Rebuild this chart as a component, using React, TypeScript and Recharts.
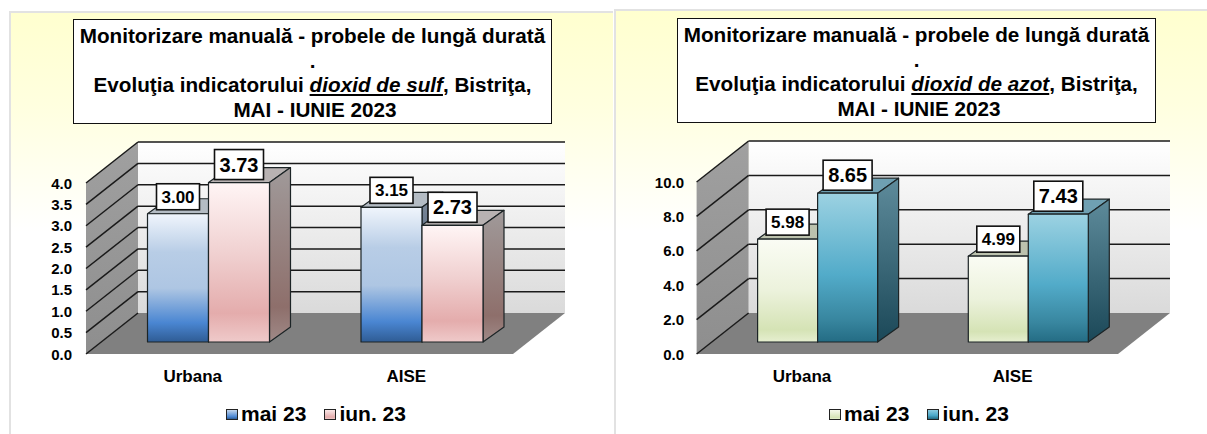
import React from 'react';
import { BarChart, Bar, XAxis, YAxis, CartesianGrid, Legend, LabelList } from 'recharts';

const categories = ['Urbana', 'AISE'];
const seriesNames = ['mai 23', 'iun. 23'];
const sulfMai = [3.0, 3.15];
const sulfIun = [3.73, 2.73];
const azotMai = [5.98, 4.99];
const azotIun = [8.65, 7.43];
const sulfTicks = [0, 0.5, 1, 1.5, 2, 2.5, 3, 3.5, 4];
const azotTicks = [0, 2, 4, 6, 8, 10];

const buildRows = (mai: number[], iun: number[]) =>
  categories.map((name, i) => ({ name, mai: mai[i], iun: iun[i] }));

const FONT = '"Liberation Sans", Arial, sans-serif';

type Stop = [string, string];
interface BarLook {
  front: Stop[];
  side: Stop[];
  top: string;
  swatch: string;
}

const sulfLooks: BarLook[] = [
  {
    front: [['0%', '#f0f5fc'], ['30%', '#b8cde6'], ['58%', '#aec6e3'], ['85%', '#4a86d2'], ['100%', '#2f5c94']],
    side: [['0%', '#7f8a99'], ['100%', '#2c4a70']],
    top: '#b4bcc4',
    swatch: 'linear-gradient(#c4d6ec, #4a86d2 75%, #2f5c94)',
  },
  {
    front: [['0%', '#fff5f5'], ['45%', '#f0d0d0'], ['82%', '#e4acac'], ['100%', '#efcaca']],
    side: [['0%', '#a09a9a'], ['80%', '#8e6f6b'], ['100%', '#a08a88']],
    top: '#b8b2b2',
    swatch: 'linear-gradient(#fbe8e8, #e4acac 80%, #efcaca)',
  },
];

const azotLooks: BarLook[] = [
  {
    front: [['0%', '#fafcf4'], ['50%', '#ecf2dc'], ['88%', '#d5e3b5'], ['100%', '#e6efd0']],
    side: [['0%', '#a8ae98'], ['100%', '#7e8868']],
    top: '#bcc2ae',
    swatch: 'linear-gradient(#f6f9ec, #d5e3b5 85%, #e6efd0)',
  },
  {
    front: [['0%', '#9cd2e2'], ['55%', '#52abc9'], ['85%', '#38869f'], ['100%', '#246c84']],
    side: [['0%', '#5e8b9b'], ['100%', '#1b4858']],
    top: '#6fa0b2',
    swatch: 'linear-gradient(#8ccbdf, #4ba8c8 60%, #246c84)',
  },
];

// one depth step from the bar plane out to the front edge, and back to the wall
const FRONT_X = 16;
const FRONT_Y = 12;
const BACK_X = 36;
const BACK_Y = 29;
const BAR_DX = 21;
const BAR_DY = 15;

const CHART_W = 600;
const CHART_H = 434;

const Bar3D = (props: any) => {
  const { x, y, width, height, look, id } = props;
  if (width == null || height == null) return null;
  const r = x + width;
  const b = y + height;
  return (
    <g stroke="#1c2426" strokeWidth={1.2} strokeLinejoin="round">
      <polygon points={`${x},${y} ${x + BAR_DX},${y - BAR_DY} ${r + BAR_DX},${y - BAR_DY} ${r},${y}`} fill={look.top} />
      <polygon
        points={`${r},${y} ${r + BAR_DX},${y - BAR_DY} ${r + BAR_DX},${b - BAR_DY} ${r},${b}`}
        fill={`url(#${id}-side)`}
      />
      <rect x={x} y={y} width={width} height={height} fill={`url(#${id}-front)`} />
    </g>
  );
};

const ValueBox = (props: any) => {
  const { x, y, width, value, boxW, boxH, gap, fontSize } = props;
  const cx = x + width / 2;
  const bottom = y - gap;
  return (
    <g>
      <rect x={cx - boxW / 2} y={bottom - boxH} width={boxW} height={boxH} fill="#fff" stroke="#111" strokeWidth={1.6} />
      <text
        x={cx}
        y={bottom - boxH / 2 + fontSize * 0.36}
        textAnchor="middle"
        fontFamily={FONT}
        fontWeight="bold"
        fontSize={fontSize}
        fill="#000"
      >
        {Number(value).toFixed(2)}
      </text>
    </g>
  );
};

// walls and floor sit behind the chart's own svg, the grid lines are drawn over them by CartesianGrid
const Room = ({ left, right, top, bottom, id }: any) => (
  <svg width={CHART_W} height={CHART_H} style={{ position: 'absolute', left: 0, top: 0 }}>
    <defs>
      <linearGradient id={`${id}-wall`} x1="0" y1="0" x2="0" y2="1">
        <stop offset="0%" stopColor="#ffffff" />
        <stop offset="100%" stopColor="#dadada" />
      </linearGradient>
      <linearGradient id={`${id}-sidewall`} x1="0" y1="0" x2="0" y2="1">
        <stop offset="0%" stopColor="#a0a0a0" />
        <stop offset="100%" stopColor="#8e8e8e" />
      </linearGradient>
    </defs>
    <rect x={left + BACK_X} y={top - BACK_Y} width={right - left} height={bottom - top} fill={`url(#${id}-wall)`} />
    <polygon
      points={`${left - FRONT_X},${top + FRONT_Y} ${left + BACK_X},${top - BACK_Y} ${left + BACK_X},${bottom - BACK_Y} ${left - FRONT_X},${bottom + FRONT_Y}`}
      fill={`url(#${id}-sidewall)`}
    />
    <polygon
      points={`${left - FRONT_X},${bottom + FRONT_Y} ${right - FRONT_X},${bottom + FRONT_Y} ${right + BACK_X},${bottom - BACK_Y} ${left + BACK_X},${bottom - BACK_Y}`}
      fill="#808080"
    />
  </svg>
);

const Panel = ({ left, top, panel, title, species, box, plot, rows, ticks, looks, maxValue, id, labelRight, legendLeft }: any) => {
  const gridLine = (p: any) => {
    const { x1, x2, y1, key } = p;
    const isBase = Math.abs(y1 - plot.bottom) < 0.5;
    return (
      <g key={key ?? y1} stroke="#1a1a1a" strokeWidth={1.5}>
        <line x1={x1 - FRONT_X} y1={y1 + FRONT_Y} x2={x1 + BACK_X} y2={y1 - BACK_Y} />
        {!isBase && <line x1={x1 + BACK_X} y1={y1 - BACK_Y} x2={x2 + BACK_X} y2={y1 - BACK_Y} />}
      </g>
    );
  };

  const yTick = (p: any) => (
    <text
      x={labelRight}
      y={p.y + FRONT_Y + 5.5}
      textAnchor="end"
      fontFamily={FONT}
      fontWeight="bold"
      fontSize={15}
      fill="#000"
    >
      {Number(p.payload.value).toFixed(1)}
    </text>
  );

  const xTick = (p: any) => (
    <text x={p.x - FRONT_X} y={382} textAnchor="middle" fontFamily={FONT} fontWeight="bold" fontSize={17} fill="#000">
      {p.payload.value}
    </text>
  );

  const legendContent = () => (
    <div style={{ display: 'flex', alignItems: 'center', fontFamily: FONT, fontWeight: 'bold', fontSize: 21, color: '#000', whiteSpace: 'nowrap' }}>
      {seriesNames.map((n, i) => (
        <div key={n} style={{ display: 'flex', alignItems: 'center', marginRight: 18 }}>
          <span
            style={{
              width: 10,
              height: 9,
              marginRight: 3,
              border: '1px solid #222',
              background: looks[i].swatch,
              display: 'inline-block',
            }}
          />
          {n}
        </div>
      ))}
    </div>
  );

  return (
    <div style={{ position: 'absolute', left, top: 0, width: panel.left + panel.width, height: CHART_H }}>
      <div
        style={{
          position: 'absolute',
          left: panel.left,
          top,
          width: panel.width,
          height: CHART_H - top,
          boxSizing: 'border-box',
          borderLeft: '2px solid #e2e2e2',
          borderTop: '2px solid #e2e2e2',
          background: 'linear-gradient(#ffffcf 0%, #ffffdf 22%, #ffffff 52%)',
        }}
      />
      <Room left={plot.left} right={plot.right} top={plot.top} bottom={plot.bottom} id={id} />
      <div style={{ position: 'absolute', left: 0, top: 0 }}>
        <BarChart
          width={CHART_W}
          height={CHART_H}
          data={rows}
          margin={{ left: 0, top: plot.top, right: CHART_W - plot.right, bottom: 0 }}
          barGap={0}
          barCategoryGap={plot.gap}
        >
          <defs>
            {looks.map((look: BarLook, i: number) => (
              <React.Fragment key={i}>
                <linearGradient id={`${id}${i}-front`} x1="0" y1="0" x2="0" y2="1">
                  {look.front.map(([o, c]) => (
                    <stop key={o} offset={o} stopColor={c} />
                  ))}
                </linearGradient>
                <linearGradient id={`${id}${i}-side`} x1="0" y1="0" x2="0" y2="1">
                  {look.side.map(([o, c]) => (
                    <stop key={o} offset={o} stopColor={c} />
                  ))}
                </linearGradient>
              </React.Fragment>
            ))}
          </defs>
          <CartesianGrid vertical={false} horizontal={gridLine} />
          <XAxis dataKey="name" height={CHART_H - plot.bottom} axisLine={false} tickLine={false} tick={xTick} interval={0} />
          <YAxis
            width={plot.left}
            domain={[0, maxValue]}
            ticks={ticks}
            interval={0}
            axisLine={false}
            tickLine={false}
            tick={yTick}
          />
          <Legend
            verticalAlign="middle"
            content={legendContent}
            wrapperStyle={{ position: 'absolute', left: legendLeft, top: 402, width: 'auto' }}
          />
          <Bar
            dataKey="mai"
            name={seriesNames[0]}
            isAnimationActive={false}
            shape={(p: any) => <Bar3D {...p} look={looks[0]} id={`${id}0`} />}
          >
            <LabelList dataKey="mai" content={(p: any) => <ValueBox {...p} boxW={43} boxH={26} gap={4} fontSize={17} />} />
          </Bar>
          <Bar
            dataKey="iun"
            name={seriesNames[1]}
            isAnimationActive={false}
            shape={(p: any) => <Bar3D {...p} look={looks[1]} id={`${id}1`} />}
          >
            <LabelList dataKey="iun" content={(p: any) => <ValueBox {...p} boxW={49} boxH={30} gap={3} fontSize={20} />} />
          </Bar>
        </BarChart>
      </div>
      <div
        style={{
          position: 'absolute',
          left: box.left,
          top: box.top,
          width: box.width,
          height: box.height,
          boxSizing: 'border-box',
          border: '1.5px solid #111',
          background: '#fff',
          textAlign: 'center',
          fontFamily: FONT,
          fontWeight: 'bold',
          fontSize: 20.7,
          lineHeight: '24.6px',
          color: '#000',
          paddingTop: 4,
          whiteSpace: 'nowrap',
        }}
      >
        {title}
        <br />.<br />
        Evoluţia indicatorului{' '}
        <span style={{ fontStyle: 'italic', textDecoration: 'underline' }}>{species}</span>, Bistriţa,
        <br />
        <span style={{ marginLeft: 5 }}>MAI - IUNIE 2023</span>
      </div>
    </div>
  );
};

export default function App() {
  const title = 'Monitorizare manuală - probele de lungă durată';
  return (
    <div style={{ position: 'absolute', left: 0, top: 0, width: 1207, height: 434, overflow: 'hidden', background: '#fff' }}>
      <Panel
        left={0}
        top={11}
        panel={{ left: 9, width: 604 }}
        title={title}
        species="dioxid de sulf"
        id="sulf"
        box={{ left: 73, top: 19, width: 479, height: 105 }}
        plot={{ left: 102, right: 529, top: 171, bottom: 342, gap: 45.5 }}
        rows={buildRows(sulfMai, sulfIun)}
        ticks={sulfTicks}
        looks={sulfLooks}
        maxValue={4}
        labelRight={72}
        legendLeft={226}
      />
      <Panel
        left={607}
        top={9}
        panel={{ left: 7, width: 593 }}
        title={title}
        species="dioxid de azot"
        id="azot"
        box={{ left: 70, top: 18, width: 479, height: 105 }}
        plot={{ left: 105.6, right: 527, top: 170, bottom: 342, gap: 45 }}
        rows={buildRows(azotMai, azotIun)}
        ticks={azotTicks}
        looks={azotLooks}
        maxValue={10}
        labelRight={77}
        legendLeft={222}
      />
    </div>
  );
}
